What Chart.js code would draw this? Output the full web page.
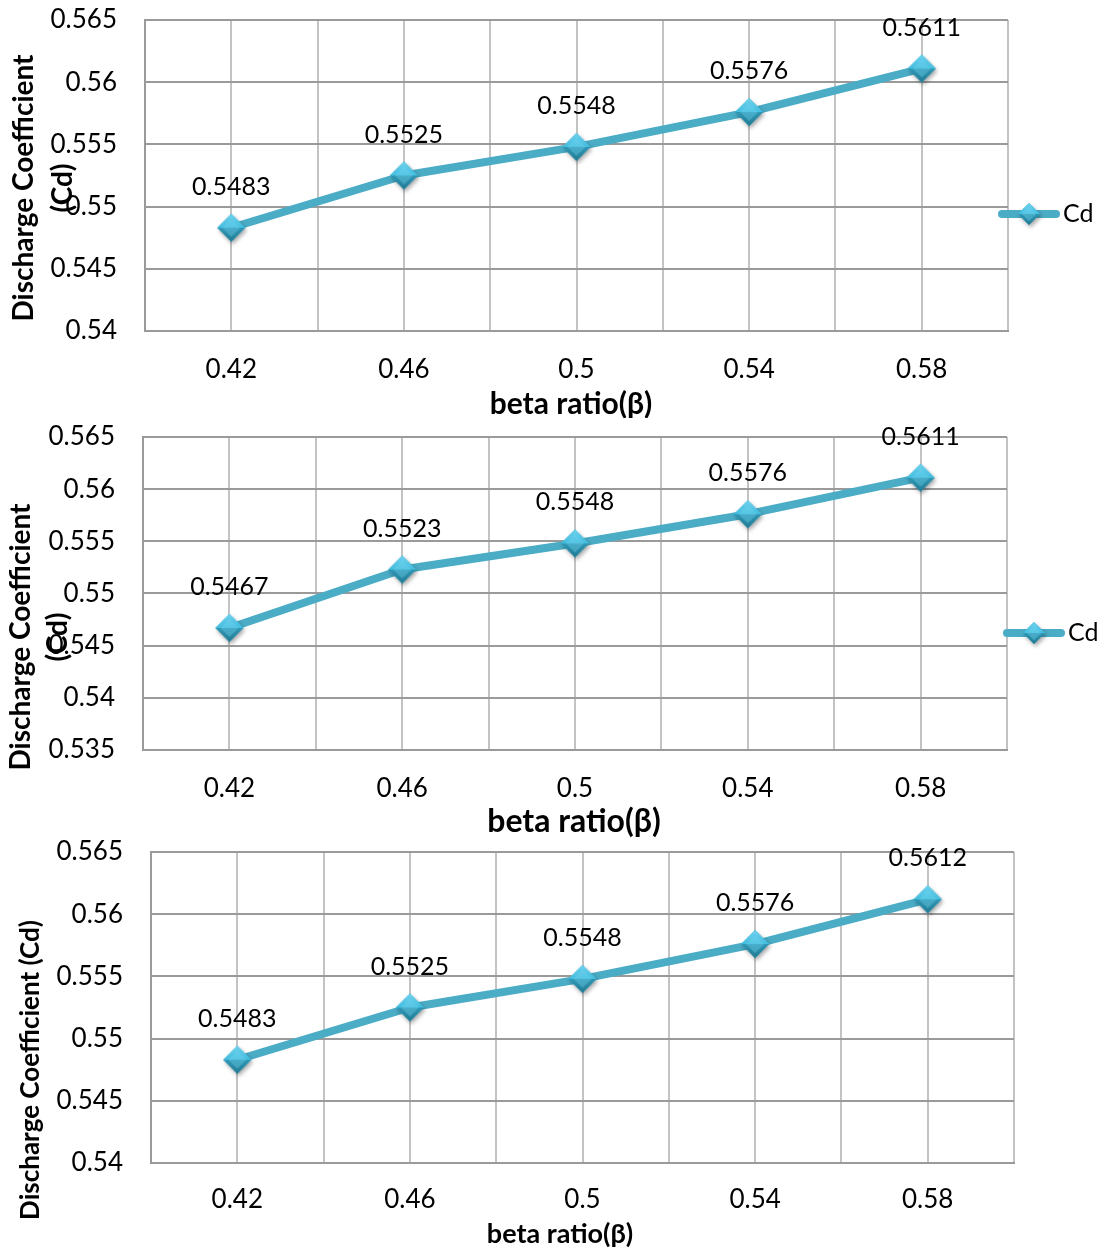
<!DOCTYPE html>
<html>
<head>
<meta charset="utf-8">
<title>Discharge Coefficient vs beta ratio</title>
<script src="https://cdn.jsdelivr.net/npm/chart.js@4/dist/chart.umd.min.js"></script>
<style>
  html, body { margin: 0; padding: 0; background: #ffffff; }
  body { width: 1101px; height: 1248px; position: relative; overflow: hidden; }
  .panel { position: absolute; left: 0; width: 1101px; }
  canvas { display: block; }
</style>
</head>
<body>
<div class="panel" style="top:0px;height:418px"><canvas id="cd1" width="1101" height="418"></canvas></div>
<div class="panel" style="top:418px;height:422px"><canvas id="cd2" width="1101" height="422"></canvas></div>
<div class="panel" style="top:840px;height:408px"><canvas id="cd3" width="1101" height="408"></canvas></div>
<script>
// beta ratio categories
const betaLabels = ['0.42', '0.46', '0.5', '0.54', '0.58'];
const betaValues = [0.42, 0.46, 0.5, 0.54, 0.58];
// vertical grid positions (category centres and the boundaries between them)
const xGridValues = [0.40, 0.42, 0.44, 0.46, 0.48, 0.50, 0.52, 0.54, 0.56, 0.58, 0.60];

// discharge coefficient series
const cdSeries1 = [0.5483, 0.5525, 0.5548, 0.5576, 0.5611];
const cdSeries2 = [0.5467, 0.5523, 0.5548, 0.5576, 0.5611];
const cdSeries3 = [0.5483, 0.5525, 0.5548, 0.5576, 0.5612];

// y axis ticks
const yTicks1 = [0.54, 0.545, 0.55, 0.555, 0.56, 0.565];
const yTicks2 = [0.535, 0.54, 0.545, 0.55, 0.555, 0.56, 0.565];
const yTicks3 = [0.54, 0.545, 0.55, 0.555, 0.56, 0.565];

const seriesName = 'Cd';
const xTitle = 'beta ratio(β)';
const yTitleWrapped = ['Discharge Coefficient', '(Cd)'];
const yTitleSingle = ['Discharge Coefficient (Cd)'];

const LINE_COLOR = '#4bacc6';
const FONT = 'Lato, "Open Sans", "DejaVu Sans", sans-serif';

// bevelled diamond marker
function makeDiamond(r) {
  const pad = 6;
  const c = document.createElement('canvas');
  c.width = c.height = 2 * r + 2 * pad;
  const g = c.getContext('2d');
  const cx = r + pad, cy = r + pad;
  g.save();
  g.shadowColor = 'rgba(0,0,0,0.35)';
  g.shadowBlur = 4;
  g.shadowOffsetX = 1.5;
  g.shadowOffsetY = 2.5;
  g.beginPath();
  g.moveTo(cx, cy - r); g.lineTo(cx + r, cy); g.lineTo(cx, cy + r); g.lineTo(cx - r, cy); g.closePath();
  g.fillStyle = '#3aa6c4';
  g.fill();
  g.restore();
  // upper facets (lighter)
  const inset = r * 0.35;
  g.beginPath();
  g.moveTo(cx, cy - r); g.lineTo(cx + r, cy); g.lineTo(cx - r, cy); g.closePath();
  let grad = g.createLinearGradient(0, cy - r, 0, cy);
  grad.addColorStop(0, '#6fd3ef');
  grad.addColorStop(1, '#43bddf');
  g.fillStyle = grad; g.fill();
  // lower facets (darker)
  g.beginPath();
  g.moveTo(cx - r, cy); g.lineTo(cx + r, cy); g.lineTo(cx, cy + r); g.closePath();
  grad = g.createLinearGradient(0, cy, 0, cy + r);
  grad.addColorStop(0, '#2f98b6');
  grad.addColorStop(1, '#217a93');
  g.fillStyle = grad; g.fill();
  // soft highlight in the middle
  g.beginPath();
  g.moveTo(cx, cy - r + inset); g.lineTo(cx + r - inset, cy); g.lineTo(cx, cy + r - inset); g.lineTo(cx - r + inset, cy); g.closePath();
  g.fillStyle = 'rgba(120,215,240,0.35)';
  g.fill();
  return c;
}
const diamond = makeDiamond(14);
const legendDiamond = makeDiamond(11);

// axis titles, value labels and legend
const annotate = {
  id: 'annotate',
  afterDatasetsDraw(chart, args, o) {
    const ctx = chart.ctx;
    ctx.save();
    ctx.fillStyle = '#000000';
    // value labels above each marker
    ctx.font = o.labelSize + 'px ' + FONT;
    ctx.textAlign = 'center';
    ctx.textBaseline = 'middle';
    const meta = chart.getDatasetMeta(0);
    const data = chart.data.datasets[0].data;
    meta.data.forEach((pt, i) => {
      ctx.fillText(String(data[i].y), pt.x, pt.y - o.labelGap);
    });
    // x axis title
    ctx.font = 'bold ' + o.xTitleSize + 'px ' + FONT;
    ctx.fillText(xTitle, o.xTitleX, o.xTitleY);
    // y axis title (rotated)
    ctx.font = 'bold ' + o.yTitleSize + 'px ' + FONT;
    o.yTitleLines.forEach((line, i) => {
      ctx.save();
      ctx.translate(o.yTitleX[i], o.yTitleY);
      ctx.rotate(-Math.PI / 2);
      ctx.fillText(line, 0, 0);
      ctx.restore();
    });
    // legend
    if (o.legend) {
      const L = o.legend;
      ctx.strokeStyle = LINE_COLOR;
      ctx.lineWidth = 8;
      ctx.lineCap = 'round';
      ctx.beginPath();
      ctx.moveTo(L.x0 + 4, L.y);
      ctx.lineTo(L.x1 - 4, L.y);
      ctx.stroke();
      ctx.drawImage(legendDiamond, (L.x0 + L.x1) / 2 - legendDiamond.width / 2, L.y - legendDiamond.height / 2);
      ctx.font = o.labelSize + 'px ' + FONT;
      ctx.textAlign = 'left';
      ctx.fillText(seriesName, L.x1 + 3, L.y);
    }
    ctx.restore();
  }
};

function buildChart(id, values, yTicks, box, text) {
  const points = betaValues.map((b, i) => ({ x: b, y: values[i] }));
  return new Chart(document.getElementById(id), {
    type: 'line',
    data: {
      datasets: [{
        label: seriesName,
        data: points,
        borderColor: LINE_COLOR,
        backgroundColor: LINE_COLOR,
        borderWidth: 8,
        borderCapStyle: 'round',
        borderJoinStyle: 'round',
        tension: 0,
        pointStyle: diamond,
        pointRadius: 14,
        clip: false
      }]
    },
    options: {
      responsive: false,
      animation: false,
      events: [],
      layout: { autoPadding: false, padding: { top: box.top, right: box.right, bottom: 0, left: 0 } },
      scales: {
        x: {
          type: 'linear',
          min: xGridValues[0],
          max: xGridValues[xGridValues.length - 1],
          afterBuildTicks: s => { s.ticks = xGridValues.map(v => ({ value: v })); },
          afterFit: s => { s.height = box.xHeight; s.paddingLeft = 0; s.paddingRight = 0; },
          grid: { color: '#c3c3c3', lineWidth: 2, drawTicks: false },
          border: { color: '#9a9a9a', width: 2 },
          ticks: {
            padding: box.xPad,
            color: '#000000',
            font: { family: FONT, size: 26 },
            maxRotation: 0,
            autoSkip: false,
            callback: v => {
              const i = betaValues.findIndex(b => Math.abs(b - v) < 1e-9);
              return i >= 0 ? betaLabels[i] : '';
            }
          }
        },
        y: {
          min: yTicks[0],
          max: yTicks[yTicks.length - 1],
          afterBuildTicks: s => { s.ticks = yTicks.map(v => ({ value: v })); },
          afterFit: s => { s.width = box.left; s.paddingTop = 0; s.paddingBottom = 0; },
          grid: { color: '#9a9a9a', lineWidth: 2, drawTicks: false },
          border: { color: '#9a9a9a', width: 2 },
          ticks: {
            padding: 28,
            color: '#000000',
            font: { family: FONT, size: 26 },
            autoSkip: false,
            callback: v => String(v)
          }
        }
      },
      plugins: {
        legend: { display: false },
        tooltip: { enabled: false },
        annotate: text
      }
    },
    plugins: [annotate]
  });
}

buildChart('cd1', cdSeries1, yTicks1,
  { top: 20, right: 93, left: 145, xHeight: 87, xPad: 23 },
  { labelSize: 25, labelGap: 41, xTitleSize: 30, xTitleX: 571, xTitleY: 404,
    yTitleSize: 28, yTitleLines: yTitleWrapped, yTitleX: [24, 63], yTitleY: 188,
    legend: { x0: 998, x1: 1060, y: 214 } });

buildChart('cd2', cdSeries2, yTicks2,
  { top: 19, right: 94, left: 143, xHeight: 90, xPad: 23 },
  { labelSize: 25, labelGap: 41, xTitleSize: 32, xTitleX: 574, xTitleY: 404,
    yTitleSize: 28, yTitleLines: yTitleWrapped, yTitleX: [21, 58], yTitleY: 219,
    legend: { x0: 1003, x1: 1065, y: 215 } });

buildChart('cd3', cdSeries3, yTicks3,
  { top: 12, right: 87, left: 151, xHeight: 85, xPad: 21 },
  { labelSize: 25, labelGap: 41, xTitleSize: 27, xTitleX: 560, xTitleY: 394,
    yTitleSize: 26, yTitleLines: yTitleSingle, yTitleX: [31], yTitleY: 230,
    legend: null });
</script>
</body>
</html>
